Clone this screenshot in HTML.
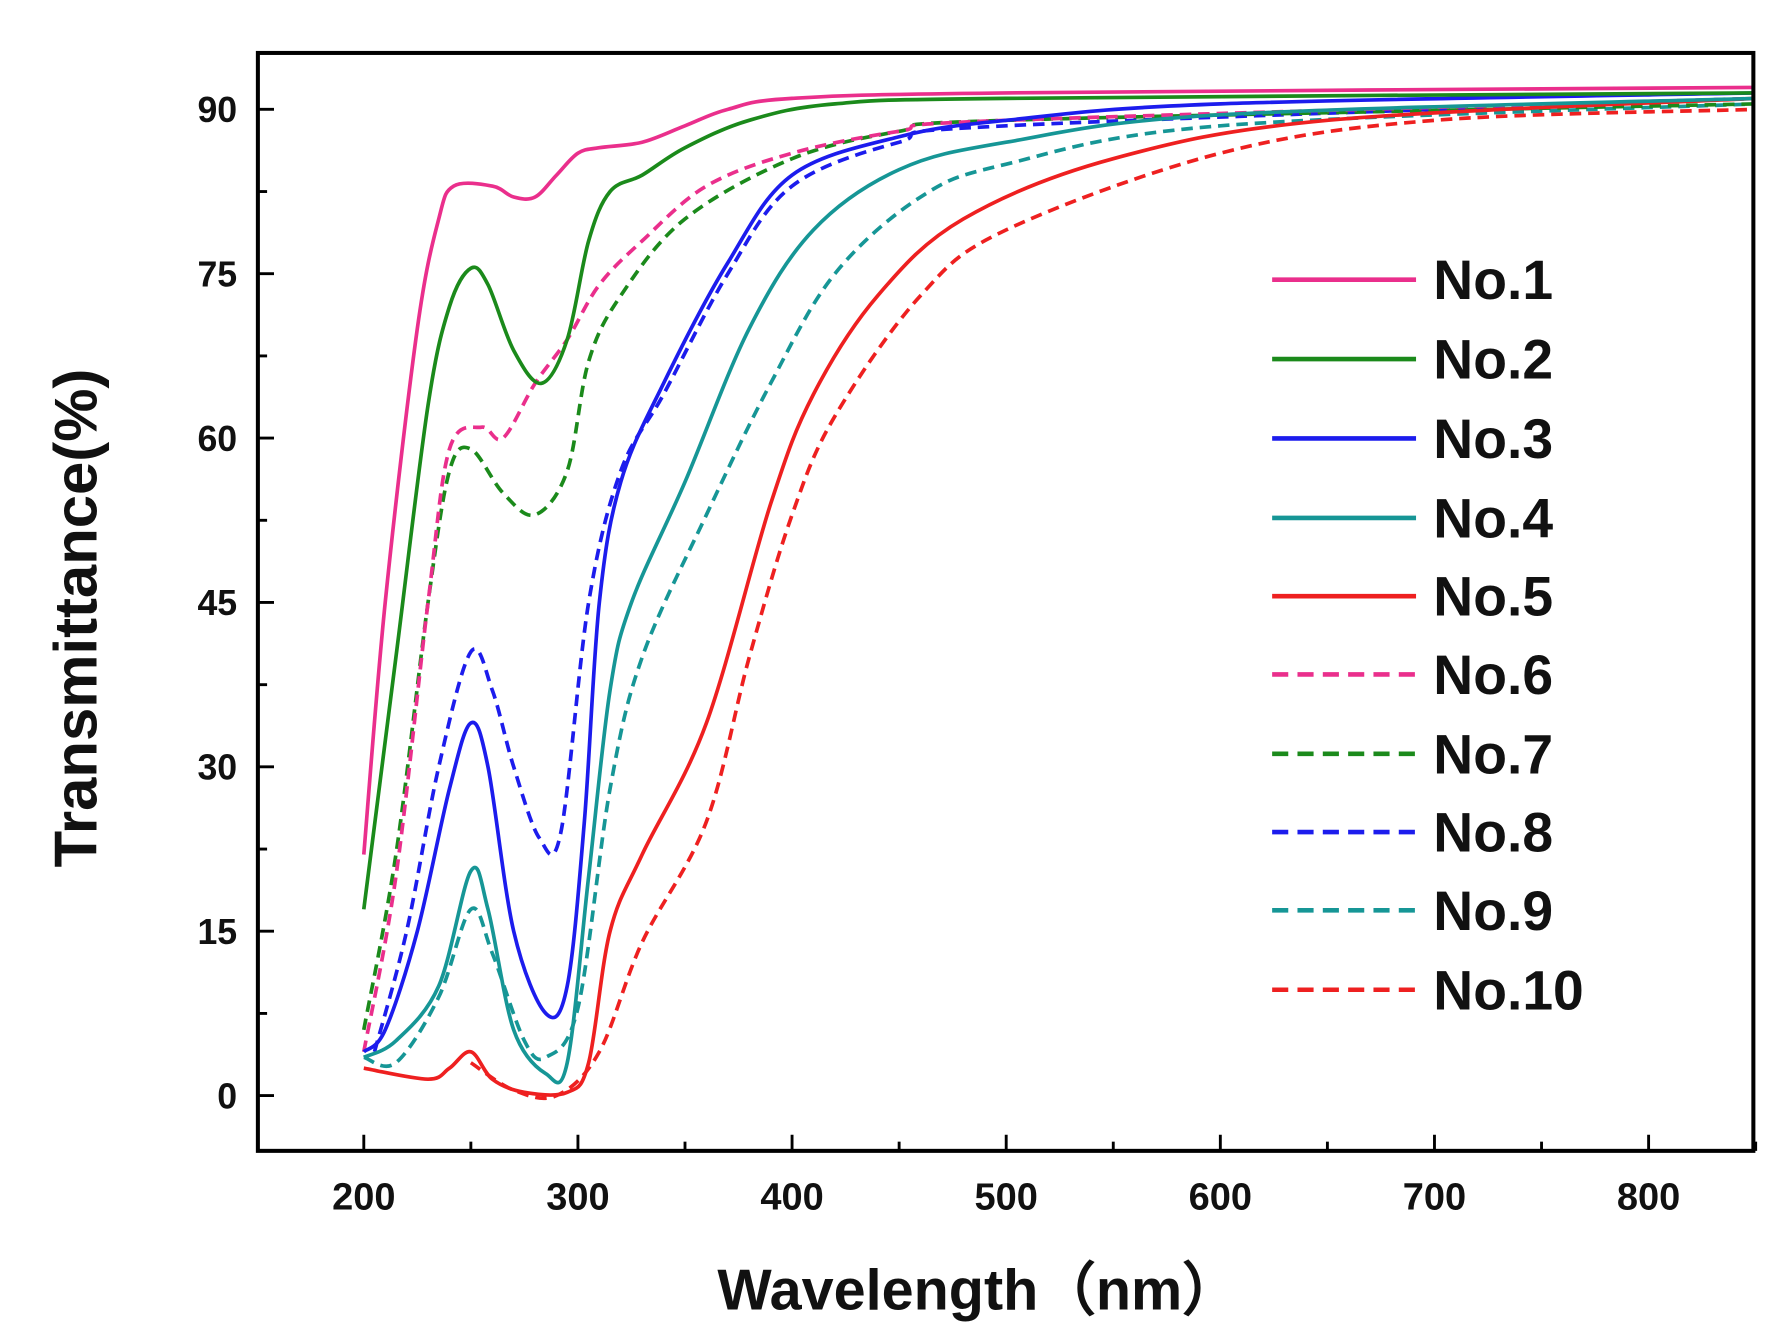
<!DOCTYPE html>
<html><head><meta charset="utf-8"><style>
html,body{margin:0;padding:0;background:#fff;}
svg{display:block;}
text{font-family:"Liberation Sans",Arial,sans-serif;font-weight:bold;fill:#111;}
</style></head><body>
<svg id="s" width="1781" height="1335" viewBox="0 0 1547 1160" preserveAspectRatio="none" xmlns="http://www.w3.org/2000/svg">
<rect x="0" y="0" width="1547" height="1160" fill="#fff"/>
<g id="curves" fill="none" stroke-width="3.2" stroke-linejoin="round"></g>
<rect x="224" y="46" width="1299" height="954" fill="none" stroke="#000" stroke-width="3.5"/>
<g id="ticks" stroke="#000" stroke-width="2.5"></g>
<g id="labels"></g>
<text x="850" y="1138" font-size="50" text-anchor="middle">Wavelength（nm）</text>
<text transform="translate(84,537) rotate(-90)" font-size="52" text-anchor="middle">Transmittance(%)</text>
<g id="legend"></g>
</svg>
<script>
const NS="http://www.w3.org/2000/svg";
const X=w=>316+(w-200)*1.86, Y=t=>952-t*9.522;
function el(p,tag,a,txt){const e=document.createElementNS(NS,tag);for(const k in a)e.setAttribute(k,a[k]);if(txt!==undefined)e.textContent=txt;document.getElementById(p).appendChild(e);}
for(let w=200;w<=850;w+=50){const x=X(w);el('ticks','line',{x1:x,x2:x,y1:1000,y2:w%100==0?986:992});}
for(let w=200;w<=800;w+=100)el('labels','text',{x:X(w),y:1051,'font-size':33,'text-anchor':'middle'},w);
for(let t=0;t<=97.5;t+=7.5){const y=Y(t);if(y<50)continue;el('ticks','line',{x1:224,x2:t%15==0?238:232,y1:y,y2:y});}
for(let t=0;t<=90;t+=15)el('labels','text',{x:206,y:Y(t)+11,'font-size':31,'text-anchor':'end'},t);
const C={p:"#ea2f8c",g:"#1b8a1b",b:"#1c1ced",t:"#169696",r:"#ee2020"};
const S=[
[C.p,0,[[200,22],[210,45],[225,70],[235,80],[242,83],[260,83],[270,82],[280,82],[290,84],[300,86],[310,86.5],[330,87],[350,88.5],[370,90],[400,91],[500,91.5],[850,92]]],
[C.g,0,[[200,17],[215,40],[230,63],[240,72],[250,75.5],[258,74],[270,68],[283,65],[295,69],[305,78],[315,82.5],[330,84],[350,86.5],[380,89],[420,90.5],[500,91],[850,91.5]]],
[C.b,0,[[200,4],[210,6],[225,15],[240,28],[250,34],[258,30],[270,15],[285,7.5],[295,10],[303,25],[310,45],[320,56],[340,65],[370,76],[400,84],[450,87.5],[500,89],[600,90.5],[850,91.5]]],
[C.t,0,[[200,3.5],[215,5],[235,10],[250,20.5],[258,17],[270,6],[285,2],[295,3],[305,20],[315,37],[325,45],[350,56],[380,70],[410,79],[450,84.5],[500,87],[600,89.5],[850,91]]],
[C.r,0,[[200,2.5],[230,1.5],[240,2.5],[250,4],[260,1.5],[275,0.3],[295,0.3],[305,3],[315,15],[330,22],[360,34],[390,54],[410,64],[440,73],[480,80],[550,85.5],[650,89],[850,91]]],
[C.p,1,[[200,4],[215,20],[230,45],[240,59],[255,61],[265,60],[280,65],[295,69],[310,74],[330,78],[360,83],[400,86],[450,88],[500,89],[850,91]]],
[C.g,1,[[200,6],[215,22],[230,45],[240,57],[250,59],[265,55],[280,53],[295,57],[305,67],[320,73],[350,80],[400,85.5],[450,88],[500,89],[850,90.5]]],
[C.b,1,[[205,4],[220,15],[235,30],[250,40.5],[260,37],[270,30],[282,23.5],[292,24],[305,45],[320,57],[340,64],[370,75],[400,83],[450,87],[500,88.5],[850,91]]],
[C.t,1,[[200,3.5],[215,3],[235,9],[250,17],[260,13],[275,5],[285,3.5],[300,8],[315,28],[330,40],[360,53],[390,65],[420,75],[460,82],[500,85],[600,88.5],[850,90.5]]],
[C.r,1,[[250,3],[270,0.5],[290,0],[310,4],[330,14],[360,25],[380,40],[400,53],[420,62],[460,73],[500,79],[600,86],[700,89],[850,90]]]
];
function path(pts){const P=pts.map(p=>[X(p[0]),Y(p[1])]);let d="M"+P[0][0]+","+P[0][1];
for(let i=0;i<P.length-1;i++){const p0=P[i-1]||P[i],p1=P[i],p2=P[i+1],p3=P[i+2]||p2;
const c1=[p1[0]+(p2[0]-p0[0])/6,p1[1]+(p2[1]-p0[1])/6],c2=[p2[0]-(p3[0]-p1[0])/6,p2[1]-(p3[1]-p1[1])/6];
d+=` C${c1[0]},${c1[1]} ${c2[0]},${c2[1]} ${p2[0]},${p2[1]}`;}return d;}
const clip=document.createElementNS(NS,'clipPath');clip.id='cp';const r=document.createElementNS(NS,'rect');
r.setAttribute('x',224);r.setAttribute('y',46);r.setAttribute('width',1299);r.setAttribute('height',954);clip.appendChild(r);document.getElementById('s').appendChild(clip);
document.getElementById('curves').setAttribute('clip-path','url(#cp)');
S.slice().reverse().forEach(s=>el('curves','path',{d:path(s[2]),stroke:s[0],'stroke-dasharray':s[1]?'10,6':'none'}));
const ly=[243,312,381,450,518,586,655,723,791,860];
S.forEach((s,i)=>{el('legend','line',{x1:1105,x2:1230,y1:ly[i],y2:ly[i],stroke:s[0],'stroke-width':4,'stroke-dasharray':s[1]?'14,8':'none'});
el('legend','text',{x:1245,y:ly[i]+17,'font-size':48},'No.'+(i+1));});
</script>
</body></html>
